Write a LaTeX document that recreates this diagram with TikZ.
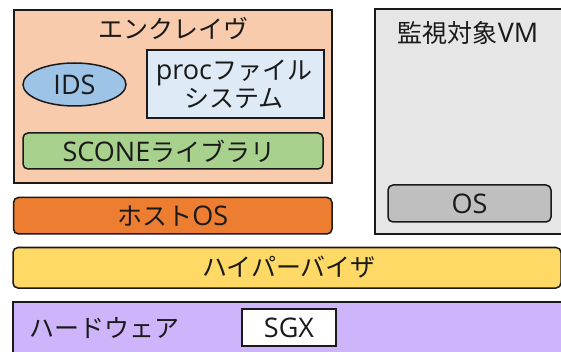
\documentclass[tikz,border=0pt]{standalone}
\usepackage{fontspec}
\setmainfont{Open Sans}[Scale=1.08]
\newfontfamily\jp{Noto Sans CJK JP}
\usetikzlibrary{shapes.geometric}
\definecolor{encl}{HTML}{F8CBAD}
\definecolor{idsc}{HTML}{9DC3E6}
\definecolor{procc}{HTML}{DEEBF7}
\definecolor{sconec}{HTML}{A9D18E}
\definecolor{vmc}{HTML}{E7E6E6}
\definecolor{osc}{HTML}{BFBFBF}
\definecolor{hostc}{HTML}{ED7D31}
\definecolor{hypc}{HTML}{FFD966}
\definecolor{hwc}{HTML}{CDB4FB}
\definecolor{edge}{HTML}{1A1A1A}
\begin{document}
\begin{tikzpicture}[x=1pt,y=-1pt,
  box/.style={draw=edge,line width=1.5pt,inner sep=0pt,outer sep=0pt,rectangle},
  rbox/.style={box,rounded corners=5pt},
  lbl/.style={inner sep=0pt,font=\fontsize{25}{28}\selectfont,text=edge,align=center}]
\useasboundingbox (0,0) rectangle (561,352);
% layers
\node[box,fill=encl,minimum width=318pt,minimum height=173pt] (enclave) at (173,96.5) {};
\node[box,fill=vmc,minimum width=187pt,minimum height=225pt] (vm) at (468.5,121.5) {};
\node[rbox,fill=hostc,minimum width=318.5pt,minimum height=36.5pt] (host) at (172.75,215.75) {};
\node[rbox,fill=hypc,minimum width=548pt,minimum height=40.5pt] (hyp) at (287,267.75) {};
\node[box,fill=hwc,minimum width=553pt,minimum height=58pt] (hw) at (289.5,331) {};
% inner parts
\node[box,ellipse,fill=idsc,minimum width=103pt,minimum height=43pt] (ids) at (74.5,84.5) {};
\node[box,fill=procc,minimum width=177pt,minimum height=68pt] (proc) at (235.5,84) {};
\node[rbox,fill=sconec,minimum width=300pt,minimum height=36pt] (scone) at (173,151) {};
\node[rbox,fill=osc,minimum width=163pt,minimum height=37pt] (os) at (469.5,203.5) {};
\node[box,fill=white,minimum width=94pt,minimum height=37pt] (sgx) at (289,327.5) {};
% labels
\node[lbl] (tenc) at (173,29) {\jp エンクレイヴ};
\node[lbl] (tids) at (ids.center) {IDS};
\node[lbl] (tproc) at (234,84) {proc{\jp ファイル}\\{\jp システム}};
\node[lbl] (tscone) at (169,151) {SCONE{\jp ライブラリ}};
\node[lbl] (tvm) at (468,33) {{\jp 監視対象}VM};
\node[lbl] (tos) at (os.center) {OS};
\node[lbl] (thost) at (host.center) {{\jp ホスト}OS};
\node[lbl] (thyp) at (289,267.5) {\jp ハイパーバイザ};
\node[lbl] (thw) at (104,328) {\jp ハードウェア};
\node[lbl] (tsgx) at (sgx.center) {SGX};
\end{tikzpicture}
\end{document}
